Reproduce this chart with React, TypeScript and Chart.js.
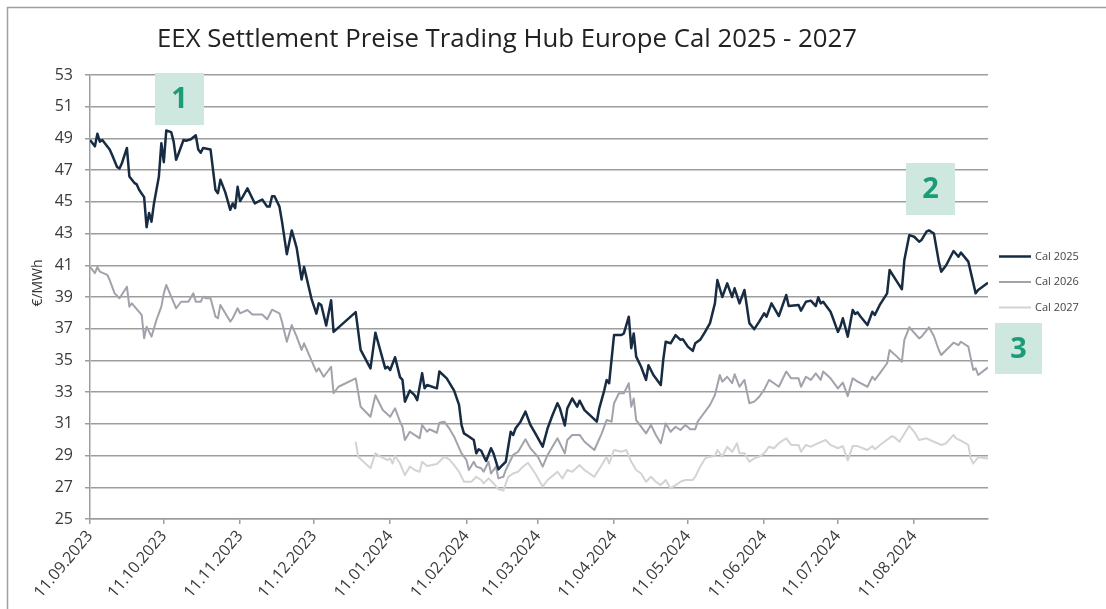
import React, { useEffect, useRef } from "react";
import { Chart, registerables } from "chart.js";

Chart.register(...registerables);

const chartTitle = "EEX Settlement Preise Trading Hub Europe Cal 2025 - 2027";
const yAxisTitle = "€/MWh";
const seriesNames = ["Cal 2025", "Cal 2026", "Cal 2027"];
const seriesColors = ["#172c42", "#a2a2ac", "#d3d3d3"];
const annotationLabels = ["1", "2", "3"];

const tickLabels = [
  "11.09.2023", "11.10.2023", "11.11.2023", "11.12.2023", "11.01.2024", "11.02.2024",
  "11.03.2024", "11.04.2024", "11.05.2024", "11.06.2024", "11.07.2024", "11.08.2024",
];
const firstDate = "11.09.2023";
const lastDate = "10.09.2024";

const yMin = 25;
const yMax = 53;
const yStep = 2;

// x values: calendar days after 11.09.2023
const cal2025Days = [
  0, 2, 3, 4, 5, 8, 9, 11, 12, 13, 15, 16, 18, 19, 20, 22, 23, 24, 25, 26, 27, 28, 29, 30, 31, 33, 34, 35, 36, 38,
  39, 41, 43, 44, 45, 46, 49, 51, 52, 53, 55, 57, 58, 59, 60, 61, 62, 64, 67, 70, 72, 73, 74, 75, 77, 78, 80, 82, 84, 86,
  87, 90, 92, 93, 94, 96, 98, 99, 108, 110, 114, 116, 120, 121, 122, 124, 126, 127, 128, 130, 132, 133, 135, 136, 137, 141, 142, 145, 148, 150,
  151, 152, 154, 156, 157, 158, 159, 160, 161, 163, 164, 166, 167, 169, 171, 172, 173, 175, 177, 179, 181, 184, 186, 188, 190, 191, 193, 194, 196, 198,
  199, 201, 206, 207, 209, 210, 211, 213, 216, 217, 219, 220, 221, 222, 224, 226, 227, 229, 232, 233, 234, 236, 238, 240, 241, 243, 245, 246, 248, 250,
  252, 254, 255, 257, 259, 261, 262, 264, 266, 268, 270, 272, 274, 275, 277, 280, 283, 284, 288, 289, 291, 293, 295, 296, 297, 298, 301, 302, 304, 305,
  306, 308, 310, 311, 312, 313, 316, 318, 319, 321, 324, 325, 328, 330, 331, 333, 335, 337, 338, 340, 341, 343, 345, 346, 348, 351, 353, 354, 357, 360,
  361, 365,
];
const cal2025Values = [
  48.9, 48.5, 49.3, 48.8, 48.9, 48.3, 47.95, 47.2, 47.1, 47.45, 48.4, 46.6, 46.2, 46.1, 45.75, 45.3, 43.4, 44.3, 43.75, 44.9, 45.75, 46.6, 48.7, 47.5, 49.5, 49.4, 48.8, 47.65, 48.05, 48.9,
  48.85, 48.95, 49.2, 48.3, 48.1, 48.4, 48.3, 45.75, 45.55, 46.4, 45.6, 44.5, 44.9, 44.6, 45.95, 45.05, 45.3, 45.85, 44.9, 45.15, 44.7, 44.7, 45.35, 45.35, 44.7, 43.8, 41.7, 43.2, 42.1, 40.1,
  40.9, 38.9, 37.95, 38.6, 38.5, 37.2, 38.8, 36.8, 38.05, 35.66, 34.5, 36.75, 34.5, 34.6, 34.4, 35.2, 33.95, 33.77, 32.4, 33.1, 32.8, 32.5, 34.2, 33.24, 33.45, 33.24, 34.3, 33.87, 33.1, 32.2,
  30.93, 30.4, 30.2, 29.98, 29.14, 29.4, 29.3, 28.97, 28.66, 29.46, 29.14, 28.13, 28.3, 28.61, 30.5, 30.3, 30.72, 31.14, 31.77, 30.93, 30.4, 29.56, 30.72, 31.56, 32.3, 31.98, 30.9, 31.98, 32.6, 32.08,
  32.46, 31.87, 31.14, 31.98, 33.1, 33.77, 33.56, 36.6, 36.6, 36.7, 37.76, 35.77, 36.7, 35.24, 34.6, 33.77, 34.7, 34.08, 33.45, 35.03, 36.18, 36.08, 36.6, 36.3, 36.33, 35.87, 35.6, 36.08, 36.3, 36.8,
  37.35, 38.6, 40.07, 39.0, 39.86, 39.0, 39.55, 38.6, 39.44, 37.35, 36.97, 37.45, 37.97, 37.76, 38.6, 37.8, 39.13, 38.43, 38.5, 38.14, 38.7, 38.77, 38.43, 38.98, 38.6, 38.7, 38.07, 37.66, 36.8, 37.13,
  37.66, 36.5, 38.18, 37.93, 38.03, 37.8, 37.23, 38.07, 37.87, 38.5, 39.23, 40.7, 39.97, 39.49, 41.33, 42.9, 42.8, 42.49, 42.6, 43.12, 43.2, 43.0, 41.23, 40.6, 41.0, 41.9, 41.54, 41.8, 41.23, 39.23,
  39.44, 39.9,
];

const cal2026Days = [
  0, 2, 3, 4, 7, 8, 9, 10, 12, 15, 16, 17, 21, 22, 23, 25, 27, 29, 30, 31, 33, 35, 37, 40, 42, 43, 45, 46, 47, 49,
  51, 52, 53, 57, 58, 60, 61, 64, 66, 70, 72, 74, 77, 78, 80, 82, 84, 86, 87, 92, 93, 95, 98, 99, 101, 108, 110, 114, 116, 119,
  122, 124, 126, 127, 128, 130, 133, 134, 135, 137, 138, 141, 142, 144, 146, 148, 151, 153, 154, 156, 157, 159, 160, 162, 163, 165, 166, 168, 169, 171,
  172, 174, 177, 179, 182, 184, 186, 190, 193, 194, 196, 199, 201, 205, 208, 210, 212, 213, 215, 217, 219, 220, 221, 222, 224, 226, 228, 230, 232, 233,
  234, 236, 238, 240, 242, 244, 246, 247, 249, 252, 254, 256, 257, 259, 261, 262, 264, 266, 268, 270, 272, 274, 276, 278, 280, 283, 285, 288, 289, 291,
  293, 295, 297, 298, 301, 304, 306, 308, 310, 312, 316, 318, 319, 321, 324, 325, 328, 330, 331, 333, 337, 338, 341, 343, 345, 346, 348, 351, 353, 354,
  357, 359, 360, 361, 365,
];
const cal2026Values = [
  40.9, 40.5, 40.9, 40.6, 40.4, 40.07, 39.65, 39.23, 38.92, 39.65, 38.39, 38.6, 37.87, 36.4, 37.13, 36.5, 37.55, 38.39, 39.23, 39.76, 39.02, 38.29, 38.7, 38.7, 39.23, 38.7, 38.7, 39.02, 38.92, 38.92,
  37.76, 37.66, 38.5, 37.45, 37.66, 38.29, 37.97, 38.18, 37.9, 37.9, 37.6, 38.2, 37.97, 37.45, 36.18, 37.23, 36.5, 35.66, 36.08, 34.3, 34.5, 33.97, 34.6, 32.93, 33.34, 33.87, 32.08, 31.45, 32.8, 31.87,
  31.45, 31.98, 31.14, 30.82, 29.98, 30.5, 30.19, 30.09, 30.93, 30.5, 30.66, 30.44, 31.07, 31.14, 30.72, 30.19, 29.14, 28.72, 28.09, 28.61, 28.3, 28.2, 27.98, 28.61, 27.87, 28.3, 27.56, 27.66, 28.09, 28.72,
  29.04, 29.24, 30.03, 29.46, 28.93, 28.3, 29.04, 30.09, 29.14, 29.98, 30.3, 30.3, 29.87, 29.35, 30.4, 31.24, 31.14, 32.3, 32.93, 32.93, 33.56, 32.08, 32.6, 31.24, 30.82, 30.4, 30.93, 30.3, 29.78, 30.4,
  31.03, 30.5, 30.82, 30.61, 30.93, 30.66, 30.66, 31.14, 31.56, 32.2, 32.82, 34.08, 33.66, 33.97, 33.56, 34.13, 33.34, 33.77, 32.3, 32.4, 32.71, 33.14, 33.77, 33.56, 33.34, 34.3, 33.87, 33.87, 33.34, 33.97,
  33.77, 34.18, 33.77, 34.3, 33.87, 33.24, 33.6, 32.75, 33.87, 33.66, 33.34, 33.97, 33.77, 34.18, 34.82, 35.66, 35.24, 34.92, 36.29, 37.09, 36.39, 36.5, 37.09, 36.54, 35.66, 35.34, 35.66, 36.12, 35.97, 36.18,
  35.87, 34.4, 34.5, 34.08, 34.56,
];

const cal2027Days = [
  108, 109, 114, 116, 118, 121, 122, 123, 124, 126, 128, 130, 132, 134, 135, 137, 139, 141, 144, 146, 148, 150, 152, 155, 157, 159, 160, 162, 164, 166,
  168, 170, 172, 174, 176, 178, 181, 184, 186, 190, 192, 194, 196, 199, 201, 205, 208, 210, 211, 213, 216, 218, 220, 222, 224, 226, 228, 230, 232, 234,
  236, 238, 240, 242, 245, 246, 248, 250, 252, 254, 255, 257, 259, 261, 263, 264, 266, 268, 270, 272, 274, 276, 278, 280, 283, 285, 288, 289, 291, 293,
  296, 299, 301, 304, 306, 308, 310, 312, 316, 318, 319, 322, 326, 327, 329, 333, 335, 337, 340, 343, 346, 348, 351, 352, 354, 357, 358, 359, 361, 365,
];
const cal2027Values = [
  29.87, 28.93, 28.2, 29.14, 28.93, 28.72, 28.82, 28.5, 28.97, 28.5, 27.77, 28.3, 28.09, 27.98, 28.61, 28.34, 28.4, 28.47, 28.93, 28.76, 28.4, 27.98, 27.35, 27.35, 27.66, 27.46, 27.25, 27.56, 27.25, 26.87,
  26.79, 27.66, 27.87, 27.98, 28.3, 28.55, 27.87, 27.04, 27.46, 27.98, 27.56, 28.09, 27.98, 28.4, 28.09, 27.66, 28.4, 28.93, 28.5, 29.35, 29.24, 29.35, 28.61, 28.09, 27.87, 27.35, 27.66, 27.35, 27.14, 27.46,
  26.93, 27.14, 27.35, 27.46, 27.46, 27.66, 28.3, 28.82, 28.93, 28.97, 29.35, 28.93, 29.56, 29.24, 29.78, 29.14, 29.14, 28.61, 28.82, 28.93, 29.14, 29.56, 29.46, 29.78, 30.09, 29.67, 29.67, 29.24, 29.67, 29.56,
  29.78, 29.98, 29.67, 29.46, 29.6, 28.7, 29.6, 29.6, 29.35, 29.6, 29.4, 29.78, 30.23, 30.15, 29.87, 30.88, 30.5, 29.98, 30.09, 29.87, 29.67, 29.78, 30.3, 30.09, 29.94, 29.67, 28.82, 28.5, 28.89, 28.82,
];

function dayOffset(label: string): number {
  const [d, m, y] = label.split(".").map(Number);
  const [d0, m0, y0] = firstDate.split(".").map(Number);
  return Math.round((Date.UTC(y, m - 1, d) - Date.UTC(y0, m0 - 1, d0)) / 86400000);
}

const tickDays = tickLabels.map(dayOffset);
const xMax = dayOffset(lastDate);

function toPoints(days: number[], values: number[]) {
  return days.map((d, i) => ({ x: d, y: values[i] }));
}

const FONT = '"Open Sans", "DejaVu Sans", sans-serif';
const GRID = "#9d9d9d";

const decorations = {
  id: "decorations",
  beforeDraw(chart: any) {
    const ctx = chart.ctx as CanvasRenderingContext2D;
    ctx.save();
    ctx.fillStyle = "#ffffff";
    ctx.fillRect(0, 0, chart.width, chart.height);
    ctx.strokeStyle = "#a0a0a0";
    ctx.lineWidth = 1.5;
    ctx.beginPath();
    ctx.moveTo(7.5, chart.height);
    ctx.lineTo(7.5, 7.5);
    ctx.lineTo(chart.width, 7.5);
    ctx.stroke();
    ctx.restore();
  },
  afterDraw(chart: any) {
    const ctx = chart.ctx as CanvasRenderingContext2D;
    ctx.save();
    // title
    ctx.font = `400 25px ${FONT}`;
    ctx.fillStyle = "#222222";
    ctx.textBaseline = "alphabetic";
    ctx.textAlign = "left";
    const w = ctx.measureText(chartTitle).width;
    ctx.save();
    ctx.translate(157, 47);
    ctx.scale(700 / w, 1);
    ctx.fillText(chartTitle, 0, 0);
    ctx.restore();

    // y axis title
    ctx.save();
    ctx.translate(38, 283);
    ctx.rotate(-Math.PI / 2);
    ctx.font = `400 14px ${FONT}`;
    ctx.fillStyle = "#333333";
    ctx.textAlign = "center";
    ctx.textBaseline = "middle";
    ctx.fillText(yAxisTitle, 0, 0);
    ctx.restore();

    // legend
    const rows = [256.5, 282, 307.5];
    chart.data.datasets.forEach((ds: any, i: number) => {
      ctx.strokeStyle = ds.borderColor;
      ctx.lineWidth = ds.borderWidth;
      ctx.beginPath();
      ctx.moveTo(999, rows[i]);
      ctx.lineTo(1031, rows[i]);
      ctx.stroke();
      ctx.font = `400 11px ${FONT}`;
      ctx.fillStyle = "#444444";
      ctx.textAlign = "left";
      ctx.textBaseline = "middle";
      ctx.fillText(ds.label, 1035, rows[i]);
    });

    // numbered boxes
    const boxes = [
      { x: 155, y: 73, w: 49, h: 52 },
      { x: 906, y: 163, w: 49, h: 52 },
      { x: 995, y: 323, w: 47, h: 51 },
    ];
    boxes.forEach((b, i) => {
      ctx.fillStyle = "#cfe8df";
      ctx.fillRect(b.x, b.y, b.w, b.h);
      ctx.font = `700 29px ${FONT}`;
      ctx.fillStyle = "#1a9c77";
      ctx.textAlign = "center";
      ctx.textBaseline = "middle";
      ctx.fillText(annotationLabels[i], b.x + b.w / 2, b.y + b.h / 2 + 1);
    });
    ctx.restore();
  },
};

export default function App() {
  const ref = useRef<HTMLCanvasElement>(null);
  useEffect(() => {
    const canvas = ref.current;
    if (!canvas) return;
    const series = [
      toPoints(cal2025Days, cal2025Values),
      toPoints(cal2026Days, cal2026Values),
      toPoints(cal2027Days, cal2027Values),
    ];
    const chart = new Chart(canvas, {
      type: "line",
      data: {
        datasets: series.map((pts, i) => ({
          label: seriesNames[i],
          data: pts,
          borderColor: seriesColors[i],
          backgroundColor: seriesColors[i],
          borderWidth: i === 0 ? 2.5 : 2,
          pointRadius: 0,
          tension: 0,
          borderJoinStyle: "round" as const,
          fill: false,
        })),
      },
      options: {
        responsive: false,
        animation: false,
        devicePixelRatio: 1,
        layout: { padding: { left: 0, top: 75, right: 118, bottom: 0 } },
        plugins: {
          legend: { display: false },
          title: { display: false },
          tooltip: { enabled: false },
        },
        scales: {
          x: {
            type: "linear",
            min: 0,
            max: xMax,
            afterBuildTicks: (scale: any) => {
              scale.ticks = tickDays.map((v) => ({ value: v }));
            },
            afterFit: (scale: any) => {
              scale.height = 90;
            },
            grid: {
              drawOnChartArea: false,
              drawTicks: true,
              tickLength: 5,
              color: GRID,
              lineWidth: 1.5,
            },
            border: { display: true, color: GRID, width: 1.5 },
            ticks: {
              autoSkip: false,
              maxRotation: 50,
              minRotation: 50,
              padding: 3,
              color: "#3a3a3a",
              font: { family: FONT, size: 16 },
              callback: (_v: any, index: number) => tickLabels[index],
            },
          },
          y: {
            min: yMin,
            max: yMax,
            afterFit: (scale: any) => {
              scale.width = 90;
            },
            grid: {
              drawTicks: true,
              tickLength: 5,
              color: GRID,
              lineWidth: 1.5,
            },
            border: { display: true, color: GRID, width: 1.5 },
            ticks: {
              stepSize: yStep,
              padding: 12,
              color: "#3a3a3a",
              font: { family: FONT, size: 16 },
            },
          },
        },
      },
      plugins: [decorations],
    });
    return () => chart.destroy();
  }, []);

  return (
    <div style={{ position: "absolute", left: 0, top: 0, width: 1106, height: 609, background: "#ffffff" }}>
      <canvas ref={ref} width={1106} height={609} style={{ display: "block" }} />
    </div>
  );
}
